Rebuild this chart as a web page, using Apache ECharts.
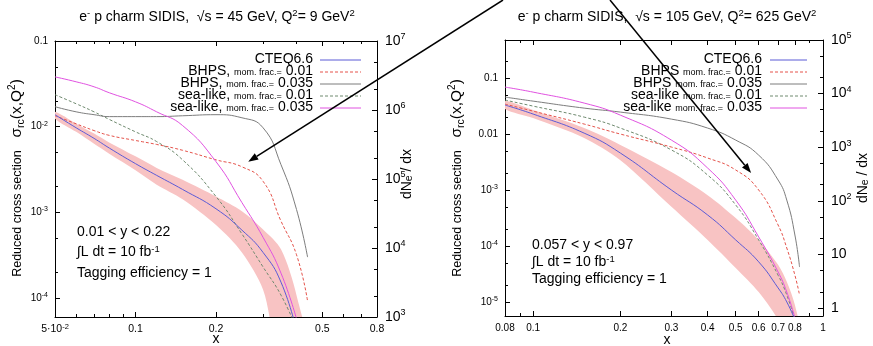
<!DOCTYPE html>
<html>
<head>
<meta charset="utf-8">
<script src="https://cdn.jsdelivr.net/npm/echarts@6/dist/echarts.min.js"></script>
<style>
  html, body { margin: 0; padding: 0; background: #fff; }
  #c { width: 873px; height: 346px; }
</style>
</head>
<body>
<div id="c"></div>
<script>
// ---------- e- p charm SIDIS, sqrt(s) = 45 GeV, Q^2 = 9 GeV^2 ----------
const xA      = [0.05, 0.06, 0.07, 0.08, 0.1, 0.12, 0.15, 0.2, 0.25, 0.3, 0.35, 0.4, 0.44];
const cteqA   = [0.0138, 0.0097, 0.0073, 0.0056, 0.0037, 0.0027, 0.00185, 0.0011, 0.00062, 0.00034, 0.000153, 0.000042, null];
const errHiA  = [0.0149, 0.0108, 0.0083, 0.0065, 0.0045, 0.0033, 0.0024, 0.00153, 0.00103, 0.00063, 0.00037, 0.000108, 0.00002];
const errLoA  = [0.0124, 0.0087, 0.0063, 0.0048, 0.0031, 0.0021, 0.00142, 0.00071, 0.00034, 0.000125, 0.0000195, null, null];
const bhps1A  = [0.0134, 0.0108, 0.0090, 0.0079, 0.0069, 0.0062, 0.0053, 0.0041, 0.0034, 0.0023, 0.00079, 0.00032, 0.000092];
const bhps35A = [0.0171, 0.0149, 0.0138, 0.0131, 0.0131, 0.0131, 0.0134, 0.0138, 0.0127, 0.0097, 0.0036, 0.00108, 0.0003];
const sea1A   = [0.0236, 0.0185, 0.0149, 0.0121, 0.0087, 0.0067, 0.0041, 0.00153, 0.00056, 0.00023, 0.000108, 0.000044, null];
const sea35A  = [0.0381, 0.0334, 0.0292, 0.0248, 0.0195, 0.0149, 0.0103, 0.0039, 0.0013, 0.00051, 0.000195, 0.000057, null];

// ---------- e- p charm SIDIS, sqrt(s) = 105 GeV, Q^2 = 625 GeV^2 ----------
const xB      = [0.08, 0.1, 0.15, 0.2, 0.3, 0.4, 0.5, 0.6, 0.7, 0.75, 0.8, 0.83];
const cteqB   = [0.033, 0.0228, 0.0104, 0.00458, 0.001, 0.000358, 0.000128, 0.000052, 0.0000178, 0.00001, 0.0000048, null];
const errHiB  = [0.0388, 0.0268, 0.0128, 0.0064, 0.0021, 0.00081, 0.000316, 0.000128, 0.000046, 0.000023, 0.0000088, 0.0000026];
const errLoB  = [0.028, 0.0193, 0.0085, 0.0034, 0.0005, 0.000128, 0.0000405, 0.000015, 0.0000048, 0.0000021, null, null];
const bhps1B  = [0.0343, 0.0257, 0.0151, 0.01, 0.00586, 0.00373, 0.00228, 0.001, 0.000237, 0.000092, 0.00003, 0.0000133];
const bhps35B = [0.0458, 0.0388, 0.0291, 0.0247, 0.0185, 0.0128, 0.0078, 0.0042, 0.00151, 0.00066, 0.000157, 0.000042];
const sea1B   = [0.0405, 0.0316, 0.0201, 0.0128, 0.0052, 0.00185, 0.00054, 0.000128, 0.00003, 0.0000133, 0.0000048, null];
const sea35B  = [0.0691, 0.0562, 0.0358, 0.0218, 0.0078, 0.00247, 0.00066, 0.000145, 0.0000343, 0.000015, 0.0000052, null];

// ---------- axis ranges ----------
const xRangeA = [0.05, 0.8],  sigRangeA = [6e-5, 0.1],      rateRangeA = [1e3, 1e7];
const xRangeB = [0.08, 1.0],  sigRangeB = [5.6e-6, 0.48],   rateRangeB = [0.71, 1e5];

// ---------- tick values and tick labels ----------
const xTickA     = [0.05, 0.1, 0.2, 0.5, 0.8];
const xTickTextA = ['5·10^-2', '0.1', '0.2', '0.5', '0.8'];
const xMinorA    = [0.06, 0.07, 0.08, 0.09, 0.3, 0.4, 0.6, 0.7];
const sigTickA     = [0.1, 0.01, 0.001, 0.0001];
const sigTickTextA = ['0.1', '10^-2', '10^-3', '10^-4'];
const sigMinorA    = [0.05, 0.02, 0.005, 0.002, 0.0005, 0.0002];
const rateTickA     = [1e7, 1e6, 1e5, 1e4, 1e3];
const rateTickTextA = ['10^7', '10^6', '10^5', '10^4', '10^3'];
const rateMinorA    = [5e6, 2e6, 5e5, 2e5, 5e4, 2e4, 5e3, 2e3];

const xTickB     = [0.08, 0.1, 0.2, 0.3, 0.4, 0.5, 0.6, 0.7, 0.8, 1];
const xTickTextB = ['0.08', '0.1', '0.2', '0.3', '0.4', '0.5', '0.6', '0.7', '0.8', '1'];
const xMinorB    = [0.09, 0.9];
const sigTickB     = [0.1, 0.01, 0.001, 1e-4, 1e-5];
const sigTickTextB = ['0.1', '0.01', '10^-3', '10^-4', '10^-5'];
const sigMinorB    = [0.2, 0.05, 0.02, 0.005, 0.002, 5e-4, 2e-4, 5e-5, 2e-5];
const rateTickB     = [1e5, 1e4, 1e3, 100, 10, 1];
const rateTickTextB = ['10^5', '10^4', '10^3', '10^2', '10', '1'];
const rateMinorB    = [5e4, 2e4, 5e3, 2e3, 500, 200, 50, 20, 5, 2];

// legend entries: [name, small qualifier, value]
const legendA = [['CTEQ6.6', '', ''],
  ['BHPS, ', 'mom. frac.=', ' 0.01'], ['BHPS, ', 'mom. frac.=', ' 0.035'],
  ['sea-like, ', 'mom. frac.=', ' 0.01'], ['sea-like, ', 'mom. frac.=', ' 0.035']];
const legendB = [['CTEQ6.6', '', ''],
  ['BHPS ', 'mom. frac.=', ' 0.01'], ['BHPS ', 'mom. frac.=', ' 0.035'],
  ['sea-like ', 'mom. frac.=', ' 0.01'], ['sea-like ', 'mom. frac.=', ' 0.035']];

// arrow tips (x, sigma) pointing at the BHPS 0.01 curves
const arrowTipA = [0.264, 0.0039];
const arrowTipB = [0.565, 0.00201];

// ---------- styling ----------
const FONT = '"Liberation Sans", Arial, Helvetica, sans-serif';
const C = {
  cteq: '#5b5bd6', bhps1: '#e5534b', bhps35: '#7d7d7d',
  sea1: '#6f8a6f', sea35: '#e052e0', band: '#f8c3c3'
};
const DASH = [3, 2];

const L = Math.log10;
const pts = (xs, ys) => xs.map((x, i) => ys[i] == null ? null : [L(x), L(ys[i])]).filter(Boolean);

// '10^-2' -> rich tokens
function supText(s) {
  const i = s.indexOf('^');
  return i < 0 ? '{n|' + s + '}' : '{n|' + s.slice(0, i) + '}{s|' + s.slice(i + 1) + '}';
}
function labelFmt(vals, texts) {
  return v => {
    const k = vals.findIndex(t => Math.abs(L(t) - v) < 1e-6);
    return k < 0 ? '' : supText(texts[k]);
  };
}
const richSmall = {
  n: { fontSize: 10, lineHeight: 13, fontFamily: FONT, color: '#000' },
  s: { fontSize: 7, lineHeight: 7, verticalAlign: 'top', fontFamily: FONT, color: '#000' }
};
const richX = {
  n: { fontSize: 10.5, lineHeight: 13, fontFamily: FONT, color: '#000' },
  s: { fontSize: 7.5, lineHeight: 7, verticalAlign: 'top', fontFamily: FONT, color: '#000' }
};
const richBig = {
  n: { fontSize: 14, lineHeight: 17, fontFamily: FONT, color: '#000' },
  s: { fontSize: 9, lineHeight: 9, verticalAlign: 'top', fontFamily: FONT, color: '#000' }
};

function mkAxis(grid, pos, range, ticks, len, showLine, labels) {
  return {
    type: 'value', gridIndex: grid, position: pos,
    min: L(range[0]), max: L(range[1]),
    axisLine: { show: showLine, onZero: false, lineStyle: { color: '#000', width: 1 } },
    splitLine: { show: false },
    axisTick: { show: true, inside: true, length: len,
      lineStyle: { color: '#000', width: 1 }, customValues: ticks.map(L) },
    axisLabel: labels ? {
      show: true, margin: labels.margin, customValues: labels.vals.map(L),
      formatter: labelFmt(labels.vals, labels.texts), rich: labels.rich
    } : { show: false }
  };
}

function panelAxes(g, xr, sr, rr, xt, xtt, xm, st, stt, sm, rt, rtt, rm, xRich) {
  const xs = [
    mkAxis(g, 'bottom', xr, xt, 5, true, { vals: xt, texts: xtt, rich: xRich, margin: 6 }),
    mkAxis(g, 'bottom', xr, xm, 3, false, null),
    mkAxis(g, 'top', xr, xt, 5, true, null),
    mkAxis(g, 'top', xr, xm, 3, false, null)
  ];
  const ys = [
    mkAxis(g, 'left', sr, st, 5, true, { vals: st, texts: stt, rich: richSmall, margin: 7 }),
    mkAxis(g, 'left', sr, sm, 3, false, null),
    mkAxis(g, 'right', rr, rt, 5, true, { vals: rt, texts: rtt, rich: richBig, margin: 8 }),
    mkAxis(g, 'right', rr, rm, 3, false, null)
  ];
  return { xs, ys };
}

const axA = panelAxes(0, xRangeA, sigRangeA, rateRangeA, xTickA, xTickTextA, xMinorA,
  sigTickA, sigTickTextA, sigMinorA, rateTickA, rateTickTextA, rateMinorA, richX);
const axB = panelAxes(1, xRangeB, sigRangeB, rateRangeB, xTickB, xTickTextB, xMinorB,
  sigTickB, sigTickTextB, sigMinorB, rateTickB, rateTickTextB, rateMinorB, richSmall);

function curve(xs, ys, color, dashed, p, z) {
  return {
    type: 'line', xAxisIndex: 4 * p, yAxisIndex: 4 * p, data: pts(xs, ys),
    symbol: 'none', showSymbol: false, smooth: 0.5,
    clip: true, z: z, silent: true,
    lineStyle: { color: color, width: 1, type: dashed ? DASH : 'solid' }
  };
}

// PDF uncertainty band drawn as one filled polygon in data space
function band(xs, hi, lo, p) {
  const upper = pts(xs, hi);
  const lower = pts(xs, lo).reverse();
  const ring = upper.concat(lower);
  return {
    type: 'custom', xAxisIndex: 4 * p, yAxisIndex: 4 * p, z: 1, silent: true, clip: true,
    data: [upper[0]],
    renderItem(params, api) {
      const cs = params.coordSys;
      return {
        type: 'polygon',
        shape: { points: ring.map(q => api.coord(q)), smooth: 0.3 },
        style: { fill: C.band, stroke: null },
        clipPath: { type: 'rect', shape: { x: cs.x, y: cs.y, width: cs.width, height: cs.height } }
      };
    }
  };
}

function panelSeries(p, xs, cteq, hi, lo, b1, b35, s1, s35) {
  return [
    band(xs, hi, lo, p),
    curve(xs, s1, C.sea1, true, p, 3),
    curve(xs, b1, C.bhps1, true, p, 3),
    curve(xs, b35, C.bhps35, false, p, 3),
    curve(xs, s35, C.sea35, false, p, 4),
    curve(xs, cteq, C.cteq, false, p, 5)
  ];
}

const chart = echarts.init(document.getElementById('c'), null, { renderer: 'canvas', width: 873, height: 346 });

chart.setOption({
  animation: false,
  backgroundColor: '#fff',
  textStyle: { fontFamily: FONT },
  grid: [
    { left: 55, top: 41, width: 322, height: 276, containLabel: false, outerBoundsMode: 'none' },
    { left: 505, top: 40, width: 318, height: 276, containLabel: false, outerBoundsMode: 'none' }
  ],
  xAxis: axA.xs.concat(axB.xs),
  yAxis: axA.ys.concat(axB.ys),
  series: panelSeries(0, xA, cteqA, errHiA, errLoA, bhps1A, bhps35A, sea1A, sea35A)
    .concat(panelSeries(1, xB, cteqB, errHiB, errLoB, bhps1B, bhps35B, sea1B, sea35B))
});

// ---------- texts, legend and arrows ----------
const richText = {
  t:  { fontSize: 14, lineHeight: 17, fontFamily: FONT, fill: '#000' },
  ts: { fontSize: 9.5, lineHeight: 9, verticalAlign: 'top', fontFamily: FONT, fill: '#000' },
  a:  { fontSize: 14, lineHeight: 16, fontFamily: FONT, fill: '#000' },
  as: { fontSize: 9.5, lineHeight: 9, verticalAlign: 'top', fontFamily: FONT, fill: '#000' },
  sm: { fontSize: 12.5, lineHeight: 14, verticalAlign: 'bottom', padding: [0, 0, 2, 0], fontFamily: FONT, fill: '#000' },
  m:  { fontSize: 15.5, lineHeight: 19, fontFamily: FONT, fill: '#000' },
  mb: { fontSize: 10.5, lineHeight: 10, verticalAlign: 'bottom', fontFamily: FONT, fill: '#000' },
  ms: { fontSize: 10, lineHeight: 9, verticalAlign: 'top', fontFamily: FONT, fill: '#000' }
};

function txt(x, y, text, align, rot) {
  return {
    type: 'text', x: x, y: y, rotation: rot || 0, z: 50, silent: true,
    style: { text: text, align: align || 'left', verticalAlign: 'middle', rich: richText,
      font: '13px ' + FONT, fill: '#000' }
  };
}

// plain text pieces laid out right-to-left so mixed font sizes share one baseline
const measureCtx = document.createElement('canvas').getContext('2d');
function textWidth(s, size) {
  measureCtx.font = size + 'px ' + FONT;
  return measureCtx.measureText(s).width;
}
function plain(x, y, s, size) {
  return { type: 'text', x: x, y: y, z: 50, silent: true,
    style: { text: s, font: size + 'px ' + FONT, fill: '#000', align: 'left', verticalAlign: 'middle' } };
}

const legendRows = [59, 71, 83, 95, 107];
const legendKeys = ['cteq', 'bhps1', 'bhps35', 'sea1', 'sea35'];
const legendDash = [false, true, false, true, false];
const BIG = 14, SMALL = 9;

function legend(entries, textRight, lx1, lx2) {
  const out = [];
  entries.forEach((parts, i) => {
    const y = legendRows[i];
    const sizes = [BIG, SMALL, BIG];
    let x = textRight;
    for (let k = 2; k >= 0; k--) {
      if (!parts[k]) continue;
      x -= textWidth(parts[k], sizes[k]);
      // shift the small text so its baseline matches the large text
      const dy = sizes[k] === SMALL ? 0.3465 * (BIG - SMALL) : 0;
      out.push(plain(x, y + dy, parts[k], sizes[k]));
    }
    out.push({
      type: 'line', z: 50, silent: true,
      shape: { x1: lx1, y1: y + 1, x2: lx2, y2: y + 1 },
      style: { stroke: C[legendKeys[i]], lineWidth: 1, lineDash: legendDash[i] ? DASH : null }
    });
  });
  return out;
}

function arrow(x1, y1, x2, y2) {
  const dx = x2 - x1, dy = y2 - y1, len = Math.hypot(dx, dy);
  const ux = dx / len, uy = dy / len, hl = 10, hw = 3.6;
  const bx = x2 - ux * hl, by = y2 - uy * hl;
  return [
    { type: 'line', z: 60, silent: true, shape: { x1: x1, y1: y1, x2: bx, y2: by },
      style: { stroke: '#000', lineWidth: 1.5 } },
    { type: 'polygon', z: 60, silent: true,
      shape: { points: [[x2, y2], [bx - uy * hw, by + ux * hw], [bx + uy * hw, by - ux * hw]] },
      style: { fill: '#000' } }
  ];
}

const tipA = chart.convertToPixel({ xAxisIndex: 0, yAxisIndex: 0 }, [L(arrowTipA[0]), L(arrowTipA[1])]);
const tipB = chart.convertToPixel({ xAxisIndex: 4, yAxisIndex: 4 }, [L(arrowTipB[0]), L(arrowTipB[1])]);

const yName = '{sm|Reduced cross section}{m|   σ}{mb|rc}{m|(x,Q}{ms|2}{m|)}';
const rateName = '{a|dN}{mb|e}{a| / dx}';

const elements = [
  txt(217, 17, '{t|e}{ts|-}{t| p charm SIDIS,  √s = 45 GeV, Q}{ts|2}{t|= 9 GeV}{ts|2}', 'center'),
  txt(667, 17, '{t|e}{ts|-}{t| p charm SIDIS,  √s = 105 GeV, Q}{ts|2}{t|= 625 GeV}{ts|2}', 'center'),
  txt(17, 178, yName, 'center', Math.PI / 2),
  txt(457, 178, yName, 'center', Math.PI / 2),
  txt(407, 174, rateName, 'center', Math.PI / 2),
  txt(863, 178, rateName, 'center', Math.PI / 2),
  txt(216, 339, '{a|x}', 'center'),
  txt(667, 340, '{a|x}', 'center'),
  txt(77, 232, '{a|0.01 < y < 0.22}'),
  txt(77, 252, '{a|∫L dt = 10 fb}{as|-1}'),
  txt(77, 273, '{a|Tagging efficiency = 1}'),
  txt(532, 245, '{a|0.057 < y < 0.97}'),
  txt(532, 262, '{a|∫L dt = 10 fb}{as|-1}'),
  txt(532, 279, '{a|Tagging efficiency = 1}')
].concat(legend(legendA, 313, 320, 361))
 .concat(legend(legendB, 762, 770, 807))
 .concat(arrow(503, 0, tipA[0], tipA[1]))
 .concat(arrow(610, 0, tipB[0], tipB[1]));

chart.setOption({ graphic: { elements: elements } });
</script>
</body>
</html>
